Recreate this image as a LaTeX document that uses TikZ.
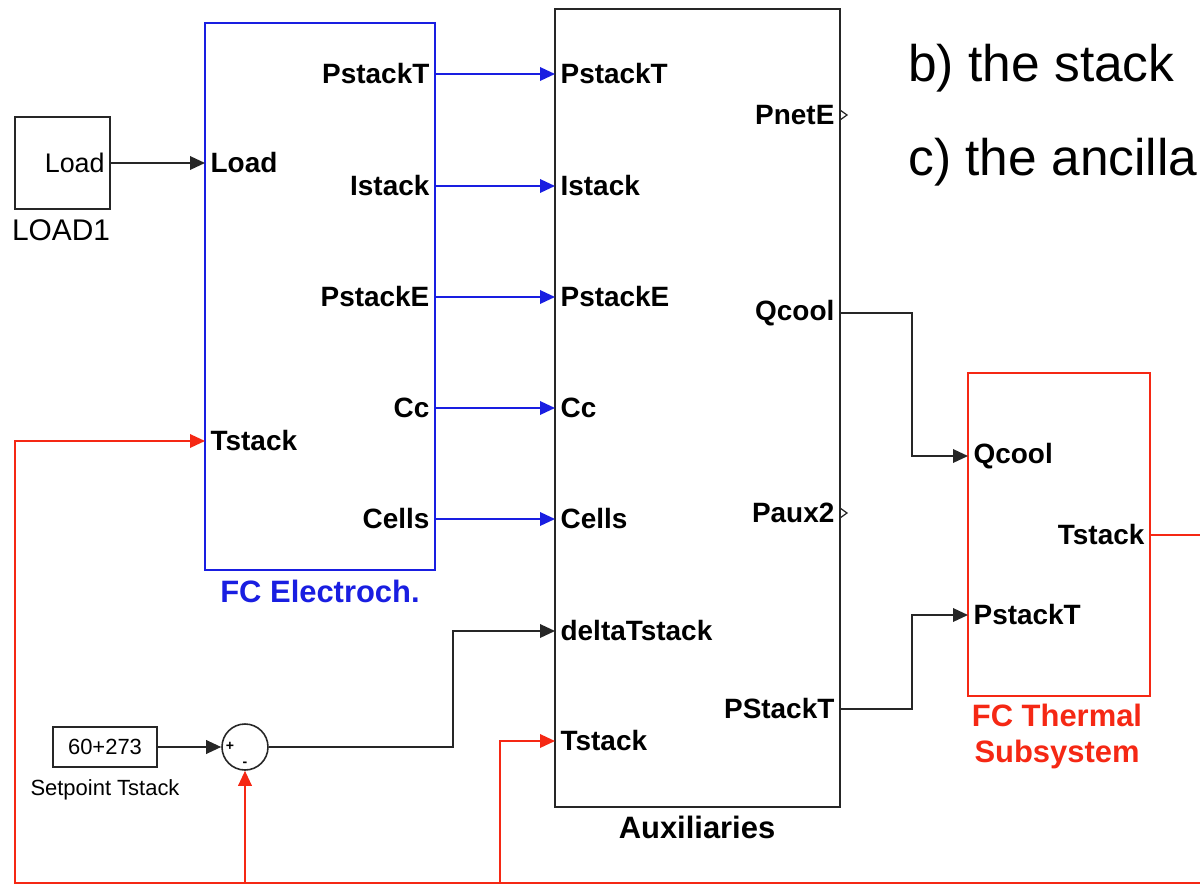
\documentclass[tikz,border=0pt]{standalone}
\usepackage{fontspec}
\setmainfont{Liberation Sans}
\usepackage{tikz}
\usetikzlibrary{arrows.meta,positioning,calc}
\definecolor{simblue}{RGB}{25,30,225}
\definecolor{simred}{RGB}{245,40,20}

\begin{document}
\begin{tikzpicture}[
    font=\fontsize{15.9}{18}\selectfont\bfseries,
    blk/.style={draw=black!85, line width=1.1pt, inner sep=0pt},
    eblk/.style={blk, draw=simblue},
    tblk/.style={blk, draw=simred},
    inport/.style={anchor=west, inner xsep=3pt, inner ysep=1pt},
    outport/.style={inport, anchor=east},
    title/.style={font=\fontsize{17.6}{20}\selectfont\bfseries, align=center},
    blkname/.style={font=\fontsize{17}{20}\selectfont\mdseries, anchor=base},
    plain/.style={font=\fontsize{15.3}{18}\selectfont\mdseries},
    small/.style={font=\fontsize{12.5}{14}\selectfont\mdseries},
    sgn/.style={font=\fontsize{8}{9}\selectfont\bfseries, inner sep=0pt},
    bigtxt/.style={font=\fontsize{29.3}{34}\selectfont\mdseries, anchor=base west, inner sep=0pt},
    sig/.style={-{Triangle[length=3mm,width=2.7mm]}, line width=1.1pt, draw=black!85},
    esig/.style={sig, draw=simblue},
    rsig/.style={sig, draw=simred},
    portmark/.style={line width=0.7pt, draw=black!85}
]
\useasboundingbox (0,0) rectangle (24,-17.7);

% Load source.
\node[blk, minimum width=1.9cm, minimum height=1.84cm] (ld) at (1.25,-3.26) {};
\node[plain, anchor=east, inner xsep=3.4pt] (ldout) at (ld.east) {Load};
\node[blkname] (ldname) at (1.22,-4.80) {LOAD1};

% FC electrochemical block.
\node[eblk, minimum width=4.6cm, minimum height=10.94cm] (elec) at (6.40,-5.93) {};
\node[inport] (eLd) at (4.10,-3.26) {Load};
\node[inport] (eTs) at (4.10,-8.82) {Tstack};
\node[outport] (ePT) at (8.70,-1.48) {PstackT};
\node[outport] (eIs) at (8.70,-3.72) {Istack};
\node[outport] (ePE) at (8.70,-5.94) {PstackE};
\node[outport] (eCc) at (8.70,-8.16) {Cc};
\node[outport] (eCl) at (8.70,-10.38) {Cells};
\node[title, text=simblue, anchor=base] (elecname) at (6.40,-12.04) {FC Electroch.};

% Auxiliaries block.
\node[blk, minimum width=5.7cm, minimum height=15.96cm] (aux) at (13.95,-8.16) {};
\node[inport] (aPT) at (11.10,-1.48) {PstackT};
\node[inport] (aIs) at (11.10,-3.72) {Istack};
\node[inport] (aPE) at (11.10,-5.94) {PstackE};
\node[inport] (aCc) at (11.10,-8.16) {Cc};
\node[inport] (aCl) at (11.10,-10.38) {Cells};
\node[inport] (adT) at (11.10,-12.62) {deltaTstack};
\node[inport] (aTs) at (11.10,-14.82) {Tstack};
\node[outport] (aPn) at (16.80,-2.30) {PnetE};
\node[outport] (aQc) at (16.80,-6.26) {Qcool};
\node[outport] (aPx) at (16.80,-10.26) {Paux2};
\node[outport] (aPS) at (16.80,-14.18) {PStackT};
\node[title, anchor=base] (auxname) at (13.94,-16.76) {Auxiliaries};
\draw[portmark] (aPn.east) ++(0,0.1) -- ++(0.14,-0.1) -- ++(-0.14,-0.1);
\draw[portmark] (aPx.east) ++(0,0.1) -- ++(0.14,-0.1) -- ++(-0.14,-0.1);

% Thermal subsystem.
\node[tblk, minimum width=3.64cm, minimum height=6.46cm] (therm) at (21.18,-10.69) {};
\node[inport] (tQc) at (19.36,-9.12) {Qcool};
\node[inport] (tPT) at (19.36,-12.30) {PstackT};
\node[outport] (tTs) at (23.00,-10.70) {Tstack};
\node[title, text=simred, anchor=base] (thermname) at (21.14,-15.24) {FC Thermal\\Subsystem};

% Setpoint and sum.
\node[blk, minimum width=2.08cm, minimum height=0.8cm, small] (sp) at (2.10,-14.94) {60+273};
\node[small, anchor=base] (spname) at (2.10,-15.90) {Setpoint Tstack};
\node[blk, circle, minimum size=0.92cm, line width=0.9pt] (sum) at (4.90,-14.94) {};
\node[sgn] (sumplus) at (4.60,-14.92) {+};
\node[sgn] (summinus) at (4.90,-15.28) {-};

% Signals.
\draw[sig] (ld.east) -- (eLd.west);
\draw[esig] (ePT.east) -- (aPT.west);
\draw[esig] (eIs.east) -- (aIs.west);
\draw[esig] (ePE.east) -- (aPE.west);
\draw[esig] (eCc.east) -- (aCc.west);
\draw[esig] (eCl.east) -- (aCl.west);
\draw[sig] (sp.east) -- (sum.west);
\draw[sig] (sum.east) -- ++(3.68,0) |- (adT.west);
\draw[sig] (aQc.east) -- ++(1.44,0) |- (tQc.west);
\draw[sig] (aPS.east) -- ++(1.44,0) |- (tPT.west);

% Temperature feedback.
\coordinate (tout) at (24.30,-10.70);
\coordinate (bl) at (0.30,-17.66);
\coordinate (bmid) at (10.00,-17.66);
\draw[rsig] (tTs.east) -- (tout) |- (bl) |- (eTs.west);
\draw[rsig] (sum.south |- bl) -- (sum.south);
\draw[rsig] (bmid) |- (aTs.west);

% Slide text.
\node[bigtxt] (txtb) at (18.16,-1.64) {b) the stack};
\node[bigtxt] (txtc) at (18.16,-3.50) {c) the ancilla};

\end{tikzpicture}
\end{document}
